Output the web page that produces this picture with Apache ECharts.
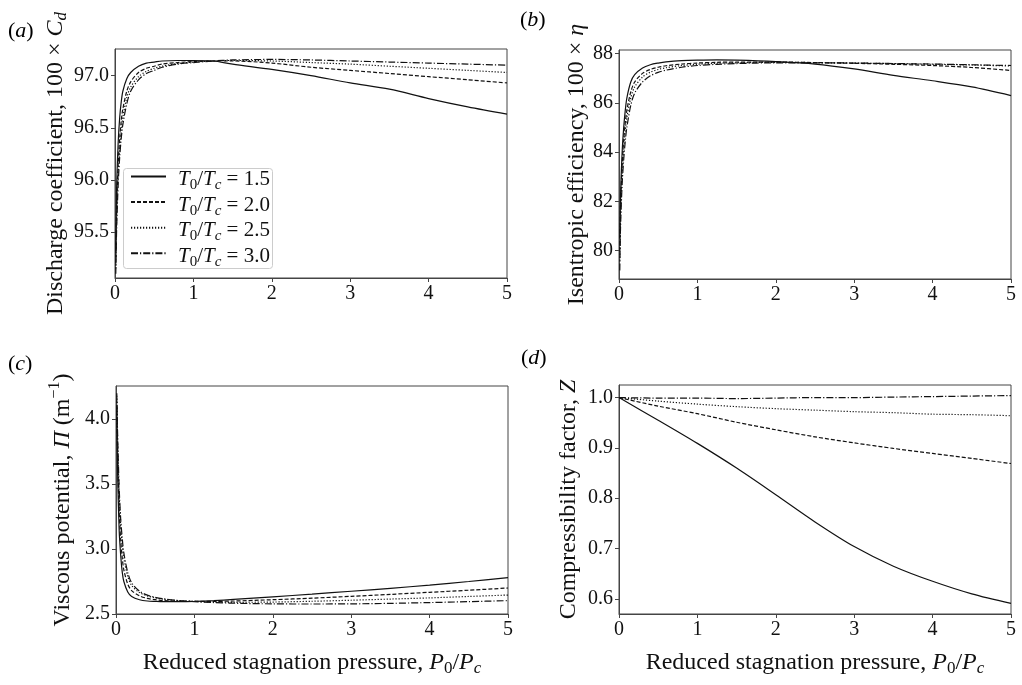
<!DOCTYPE html>
<html>
<head>
<meta charset="utf-8">
<script src="https://cdn.jsdelivr.net/npm/echarts@6/dist/echarts.min.js"></script>
<style>
  html, body { margin: 0; padding: 0; background: #fff; }
  #main { width: 1022px; height: 685px; }
</style>
</head>
<body>
<div id="main"></div>
<script>
// x positions (reduced stagnation pressure P0/Pc)
var xs = [0.01, 0.02, 0.04, 0.06, 0.08, 0.1, 0.15, 0.2, 0.3, 0.4, 0.5, 0.6, 0.8, 1.0, 1.25, 1.5, 2, 2.5, 3, 3.5, 4, 4.5, 5];
var xsZ = [0, 0.5, 1, 1.5, 2, 2.5, 3, 3.5, 4, 4.5, 5];
var temps = ['1.5', '2.0', '2.5', '3.0'];

// (a) discharge coefficient, 100 x Cd
var cd15 = [95.3, 95.9, 96.35, 96.6, 96.75, 96.85, 96.97, 97.03, 97.09, 97.12, 97.13, 97.14, 97.145, 97.145, 97.14, 97.11, 97.06, 97.0, 96.93, 96.87, 96.78, 96.7, 96.63];
var cd20 = [95.2, 95.7, 96.15, 96.4, 96.57, 96.68, 96.85, 96.94, 97.03, 97.07, 97.09, 97.11, 97.125, 97.135, 97.14, 97.14, 97.12, 97.08, 97.05, 97.02, 96.99, 96.96, 96.93];
var cd25 = [95.15, 95.6, 96.05, 96.3, 96.48, 96.6, 96.79, 96.89, 96.99, 97.04, 97.07, 97.09, 97.115, 97.13, 97.14, 97.145, 97.14, 97.125, 97.11, 97.09, 97.07, 97.05, 97.03];
var cd30 = [95.1, 95.5, 95.95, 96.22, 96.4, 96.53, 96.73, 96.85, 96.96, 97.02, 97.05, 97.08, 97.11, 97.125, 97.14, 97.15, 97.155, 97.15, 97.14, 97.13, 97.12, 97.11, 97.1];

// (b) isentropic efficiency, 100 x eta
var eta15 = [80.5, 82.3, 84.0, 85.0, 85.7, 86.2, 86.85, 87.15, 87.42, 87.55, 87.62, 87.67, 87.72, 87.74, 87.75, 87.74, 87.68, 87.58, 87.38, 87.12, 86.9, 86.65, 86.3];
var eta20 = [80.0, 81.8, 83.5, 84.5, 85.2, 85.7, 86.45, 86.85, 87.2, 87.36, 87.45, 87.51, 87.58, 87.62, 87.65, 87.66, 87.66, 87.64, 87.61, 87.57, 87.52, 87.44, 87.32];
var eta25 = [79.6, 81.4, 83.1, 84.1, 84.85, 85.4, 86.2, 86.65, 87.05, 87.25, 87.36, 87.43, 87.52, 87.57, 87.61, 87.63, 87.65, 87.64, 87.62, 87.6, 87.57, 87.54, 87.5];
var eta30 = [79.2, 81.0, 82.7, 83.7, 84.45, 85.0, 85.9, 86.4, 86.85, 87.1, 87.24, 87.33, 87.45, 87.52, 87.57, 87.6, 87.63, 87.63, 87.62, 87.6, 87.58, 87.55, 87.52];

// (c) viscous potential
var pi15 = [4.1, 3.6, 3.15, 2.95, 2.82, 2.75, 2.67, 2.635, 2.61, 2.6, 2.597, 2.595, 2.595, 2.597, 2.603, 2.612, 2.632, 2.653, 2.675, 2.698, 2.722, 2.75, 2.78];
var pi20 = [4.15, 3.75, 3.3, 3.07, 2.93, 2.84, 2.73, 2.68, 2.64, 2.62, 2.61, 2.603, 2.598, 2.597, 2.597, 2.6, 2.61, 2.622, 2.636, 2.651, 2.667, 2.683, 2.7];
var pi25 = [4.18, 3.85, 3.42, 3.18, 3.03, 2.93, 2.79, 2.72, 2.665, 2.64, 2.625, 2.615, 2.603, 2.597, 2.592, 2.59, 2.592, 2.598, 2.606, 2.615, 2.624, 2.635, 2.646];
var pi30 = [4.2, 3.9, 3.48, 3.23, 3.08, 2.97, 2.82, 2.74, 2.675, 2.645, 2.628, 2.617, 2.603, 2.595, 2.588, 2.583, 2.578, 2.577, 2.578, 2.582, 2.588, 2.595, 2.603];

// (d) compressibility factor
var z15 = [1.0, 0.955, 0.909, 0.86, 0.807, 0.753, 0.704, 0.665, 0.635, 0.61, 0.591];
var z20 = [1.0, 0.983, 0.968, 0.951, 0.936, 0.922, 0.91, 0.899, 0.889, 0.879, 0.869];
var z25 = [1.0, 0.993, 0.987, 0.982, 0.978, 0.975, 0.972, 0.97, 0.967, 0.966, 0.964];
var z30 = [1.0, 0.999, 0.999, 0.998, 0.999, 1.0, 1.0, 1.001, 1.002, 1.003, 1.004];

var cdTicks = [95.5, 96.0, 96.5, 97.0];
var etaTicks = [80, 82, 84, 86, 88];
var piTicks = [2.5, 3.0, 3.5, 4.0];
var zTicks = [0.6, 0.7, 0.8, 0.9, 1.0];

var F = 'Liberation Serif';
var INK = '#111';
var AX = '#444';
var dashes = ['solid', [4, 2], [1.2, 1.8], [7, 2, 1.2, 2]];

// rich styles for the axis names (24px) and panel letters
var rich = {
  n: { fontFamily: F, fontSize: 24, color: INK, lineHeight: 28 },
  i: { fontFamily: F, fontSize: 24, fontStyle: 'italic', color: INK, lineHeight: 28 },
  s: { fontFamily: F, fontSize: 17, color: INK, lineHeight: 28, padding: [12, 0, 0, 0] },
  si: { fontFamily: F, fontSize: 17, fontStyle: 'italic', color: INK, lineHeight: 28, padding: [12, 0, 0, 0] },
  sup: { fontFamily: F, fontSize: 16, color: INK, lineHeight: 28, padding: [0, 0, 16, 0] },
  pn: { fontFamily: F, fontSize: 22, color: INK },
  pi: { fontFamily: F, fontSize: 22, fontStyle: 'italic', color: INK }
};
// legend text: a bit smaller, shifted down from the line sample
var legRich = {
  t0: { fontFamily: F, fontSize: 21, fontStyle: 'italic', color: INK, padding: [6, 0, 0, 7] },
  n: { fontFamily: F, fontSize: 21, color: INK, padding: [6, 0, 0, 0] },
  i: { fontFamily: F, fontSize: 21, fontStyle: 'italic', color: INK, padding: [6, 0, 0, 0] },
  s: { fontFamily: F, fontSize: 15, color: INK, padding: [17, 0, 0, 0] },
  si: { fontFamily: F, fontSize: 15, fontStyle: 'italic', color: INK, padding: [17, 0, 0, 0] }
};

var chart = echarts.init(document.getElementById('main'));

var grids = [
  { left: 115, top: 49, width: 392, height: 229 },
  { left: 619, top: 50, width: 392, height: 229 },
  { left: 116, top: 386, width: 392, height: 228 },
  { left: 619, top: 385, width: 392, height: 229 }
];
grids.forEach(function (g) {
  g.show = true;
  g.borderColor = AX;
  g.borderWidth = 1;
  g.backgroundColor = 'transparent';
});

function xAxis(gi, withName) {
  var ax = {
    type: 'value', gridIndex: gi, min: 0, max: 5, interval: 1,
    splitLine: { show: false },
    axisLine: { onZero: false, lineStyle: { color: AX } },
    axisTick: { length: 4, lineStyle: { color: AX } },
    axisLabel: { fontFamily: F, fontSize: 20, color: INK, margin: 6 }
  };
  if (withName) {
    ax.name = '{n|Reduced stagnation pressure, }{i|P}{s|0}{n|/}{i|P}{si|c}';
    ax.nameLocation = 'middle';
    ax.nameGap = 35;
    ax.nameTextStyle = { rich: rich };
  }
  return ax;
}

function yAxis(gi, min, max, ticks, dec, name, gap) {
  return {
    type: 'value', gridIndex: gi, min: min, max: max,
    splitLine: { show: false },
    axisLine: { onZero: false, lineStyle: { color: AX } },
    axisTick: { length: 4, lineStyle: { color: AX }, customValues: ticks },
    axisLabel: {
      fontFamily: F, fontSize: 20, color: INK, margin: 6, customValues: ticks,
      formatter: function (v) { return v.toFixed(dec); }
    },
    name: name, nameLocation: 'middle', nameRotate: 90, nameGap: gap,
    nameTextStyle: { rich: rich }
  };
}

var series = [];
function addSet(gi, xv, sets) {
  sets.forEach(function (ys, k) {
    series.push({
      type: 'line',
      name: 'T' + temps[k],
      xAxisIndex: gi, yAxisIndex: gi,
      data: xv.map(function (x, i) { return [x, ys[i]]; }),
      symbol: 'none',
      smooth: 0.3,
      silent: true,
      lineStyle: { color: INK, width: 1.2, type: dashes[k] },
      itemStyle: { color: INK }
    });
  });
}
addSet(0, xs, [cd15, cd20, cd25, cd30]);
addSet(1, xs, [eta15, eta20, eta25, eta30]);
addSet(2, xs, [pi15, pi20, pi25, pi30]);
addSet(3, xsZ, [z15, z20, z25, z30]);

function panel(letter, x, y) {
  return {
    type: 'text', left: x, top: y,
    style: { text: '{pn|(}{pi|' + letter + '}{pn|)}', rich: rich }
  };
}

var option = {
  animation: false,
  backgroundColor: '#fff',
  grid: grids,
  xAxis: [xAxis(0, false), xAxis(1, false), xAxis(2, true), xAxis(3, true)],
  yAxis: [
    yAxis(0, 95.06, 97.255, cdTicks, 1, '{n|Discharge coefficient, 100 × }{i|C}{si|d}', 44),
    yAxis(1, 78.85, 88.15, etaTicks, 0, '{n|Isentropic efficiency, 100 × }{i|η}', 28),
    yAxis(2, 2.5, 4.255, piTicks, 1, '{n|Viscous potential, }{i|Π}{n| (m}{sup|−1}{n|)}', 39),
    yAxis(3, 0.57, 1.025, zTicks, 1, '{n|Compressibility factor, }{i|Z}', 36)
  ],
  legend: {
    orient: 'vertical',
    left: 130, top: 169,
    padding: 0,
    itemWidth: 35, itemHeight: 10, itemGap: 2.1,
    selectedMode: false,
    itemStyle: { opacity: 0 },
    data: temps.map(function (t) { return 'T' + t; }),
    formatter: function (name) {
      return '{t0|T}{s|0}{n|/}{i|T}{si|c}{n| = ' + name.slice(1) + '}';
    },
    textStyle: { rich: legRich }
  },
  graphic: [
    // legend frame
    {
      type: 'rect', z: 3, silent: true,
      shape: { x: 123.5, y: 168.5, width: 149, height: 100, r: 3 },
      style: { fill: 'rgba(255,255,255,0.8)', stroke: '#ccc', lineWidth: 1 }
    },
    panel('a', 8, 20),
    panel('b', 520, 9),
    panel('c', 8, 353),
    panel('d', 521, 347)
  ],
  series: series
};

chart.setOption(option);
</script>
</body>
</html>
